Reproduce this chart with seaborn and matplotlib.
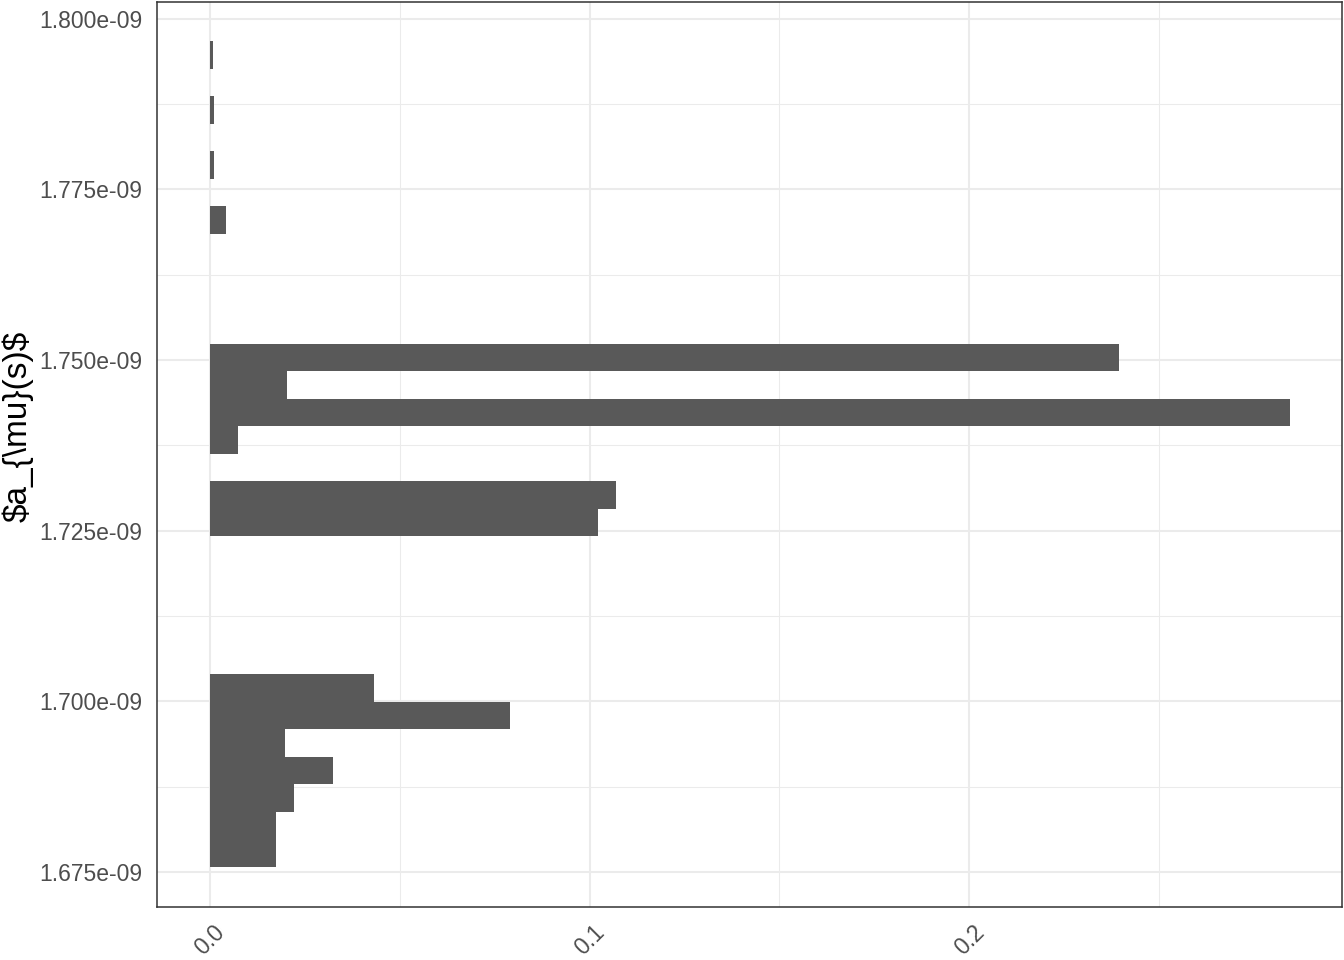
import pandas as pd
import seaborn as sns
import matplotlib.pyplot as plt

# bin centres of the filled bins (a_mu values) and the share of samples in each
a_mu = [1.677805e-09, 1.681835e-09, 1.685865e-09, 1.689895e-09, 1.693925e-09,
        1.697955e-09, 1.701985e-09, 1.726165e-09, 1.730195e-09, 1.738255e-09,
        1.742285e-09, 1.746315e-09, 1.750345e-09, 1.770495e-09, 1.778555e-09,
        1.786615e-09, 1.794675e-09]
share = [0.0175, 0.0175, 0.0222, 0.0325, 0.0198,
         0.0791, 0.0433, 0.1022, 0.1069, 0.0074,
         0.2844, 0.0203, 0.2393, 0.0043, 0.0011,
         0.0011, 0.0009]

bin_lo = 1.67579e-09
bin_hi = 1.79669e-09
n_bins = 30

y_ticks = [1.675e-09, 1.700e-09, 1.725e-09, 1.750e-09, 1.775e-09, 1.800e-09]
y_minor = [1.6875e-09, 1.7125e-09, 1.7375e-09, 1.7625e-09, 1.7875e-09]
x_ticks = [0.0, 0.1, 0.2]
x_minor = [0.05, 0.15, 0.25]

df = pd.DataFrame({"a_mu": a_mu, "share": share})

sns.set_style("white")
plt.rcParams["font.family"] = ["Liberation Sans", "DejaVu Sans"]

fig = plt.figure(figsize=(13.44, 9.6), dpi=100)
ax = fig.add_axes([157 / 1344, (960 - 906.7) / 960, (1342 - 157) / 1344, (906.7 - 2) / 960])

sns.histplot(data=df, y="a_mu", weights="share",
             bins=n_bins, binrange=(bin_lo, bin_hi),
             color="#595959", alpha=1, linewidth=0, edgecolor="none", ax=ax)

ax.set_xlim(-0.01388, 0.29813)
ax.set_ylim(1.66993e-09, 1.80243e-09)

ax.set_xticks(x_ticks)
ax.set_xticklabels([f"{v:.1f}" for v in x_ticks], rotation=45, ha="center", va="top")
ax.set_xticks(x_minor, minor=True)
ax.set_yticks(y_ticks)
ax.set_yticklabels([f"{v:.3e}" for v in y_ticks])
ax.set_yticks(y_minor, minor=True)

ax.grid(which="major", color="#EBEBEB", lw=1.5)
ax.grid(which="minor", color="#EBEBEB", lw=0.75)
ax.set_axisbelow(True)

ax.tick_params(which="minor", length=0)
ax.tick_params(which="major", length=5.4, width=1.1, color="#333333",
               labelcolor="#4D4D4D", labelsize=16.5)
ax.tick_params(axis="x", pad=5)
ax.tick_params(axis="y", pad=5)
for s in ax.spines.values():
    s.set_color("#333333")
    s.set_linewidth(1.1)

ax.set_xlabel("")
ax.set_ylabel(r"\$a_{\mu}(s)\$", fontsize=24, color="black")
ax.yaxis.set_label_coords(-0.1040, 0.531)

fig.savefig("out.png", dpi=100)
